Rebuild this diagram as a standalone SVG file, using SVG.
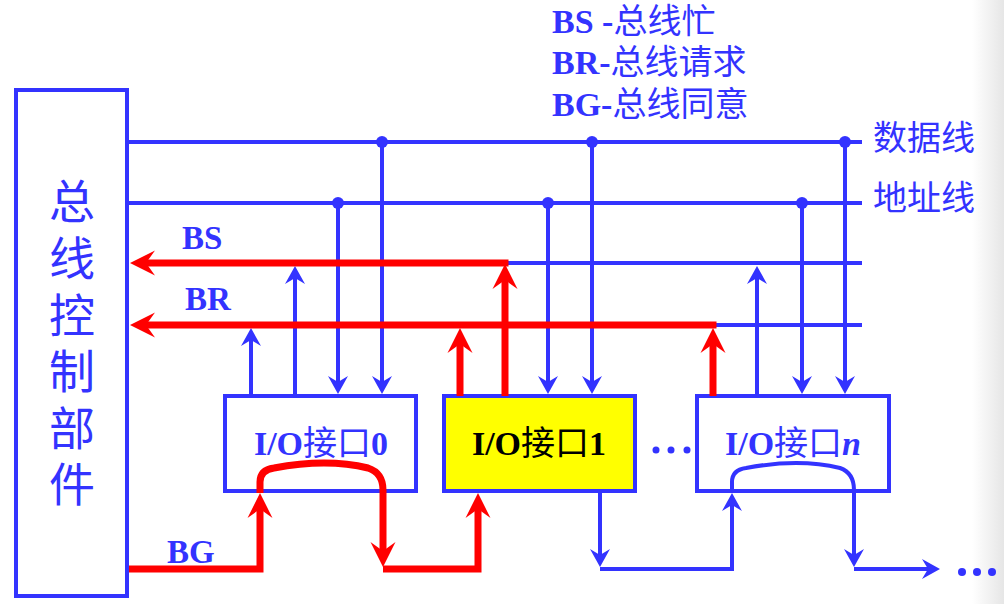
<svg xmlns="http://www.w3.org/2000/svg" width="1004" height="604" viewBox="0 0 1004 604">
<style>
.t{font-family:"Liberation Serif","Noto Sans CJK SC",serif;fill:#3333ff}
.b{font-weight:bold}
.cjk{font-family:"Noto Sans CJK SC",sans-serif}
.bl{fill:none;stroke:#3333ff;stroke-width:4;stroke-linejoin:miter}
.rd{fill:none;stroke:#ff0000;stroke-width:7;stroke-linejoin:miter}
.box{fill:#ffffff;stroke:#3333ff;stroke-width:4}
.dot{fill:#3333ff}
</style>
<defs>
<linearGradient id="edge" x1="0" y1="0" x2="1" y2="0">
<stop offset="0" stop-color="#ffffff"/>
<stop offset="1" stop-color="#e6e6e6"/>
</linearGradient>
<marker id="ar" viewBox="-10 -13 27 26" refX="0" refY="0" markerWidth="27" markerHeight="26" markerUnits="userSpaceOnUse" orient="auto">
<path d="M16,0 L-9,-12.5 L0,0 L-9,12.5 Z" fill="#ff0000"/>
</marker>
<marker id="ab" viewBox="-7 -11 20 22" refX="0" refY="0" markerWidth="20" markerHeight="22" markerUnits="userSpaceOnUse" orient="auto">
<path d="M12,0 L-6,-10 L0,0 L-6,10 Z" fill="#3333ff"/>
</marker>
</defs>
<rect x="0" y="0" width="1004" height="604" fill="#ffffff"/>
<rect x="972" y="0" width="32" height="604" fill="url(#edge)"/>

<g id="legend">
<text class="t" x="552" y="33" font-size="34"><tspan class="b">BS -</tspan><tspan class="cjk">总线忙</tspan></text>
<text class="t" x="552" y="74" font-size="34"><tspan class="b">BR-</tspan><tspan class="cjk">总线请求</tspan></text>
<text class="t" x="552" y="116" font-size="34"><tspan class="b">BG-</tspan><tspan class="cjk">总线同意</tspan></text>
</g>

<g id="bus-labels">
<text class="t cjk" x="873" y="150" font-size="34">数据线</text>
<text class="t cjk" x="873" y="210" font-size="34">地址线</text>
<text class="t b" x="182" y="249" font-size="33">BS</text>
<text class="t b" x="185" y="310" font-size="33">BR</text>
<text class="t b" x="167" y="563" font-size="33">BG</text>
</g>

<g id="bus-controller">
<rect class="box" x="16" y="90" width="111" height="506"/>
<g class="t cjk" font-size="46" text-anchor="middle">
<text x="72" y="218">总</text>
<text x="72" y="275">线</text>
<text x="72" y="332">控</text>
<text x="72" y="388">制</text>
<text x="72" y="445">部</text>
<text x="72" y="501">件</text>
</g>
</g>

<g id="io0">
<rect class="box" x="225" y="396" width="191" height="95"/>
<text class="t" x="321" y="455" font-size="34" text-anchor="middle"><tspan class="b">I/O</tspan><tspan class="cjk">接口</tspan><tspan class="b">0</tspan></text>
</g>

<g id="io1">
<rect class="box" x="444" y="396" width="191" height="95" fill="#ffff00" style="fill:#ffff00"/>
<text class="t" x="539" y="455" font-size="34" text-anchor="middle" style="fill:#000000"><tspan class="b">I/O</tspan><tspan class="cjk">接口</tspan><tspan class="b">1</tspan></text>
</g>

<g id="ion">
<rect class="box" x="697" y="396" width="192" height="95"/>
<text class="t" x="793" y="455" font-size="34" text-anchor="middle"><tspan class="b">I/O</tspan><tspan class="cjk">接口</tspan><tspan class="b" font-style="italic">n</tspan></text>
</g>

<g id="ellipses">
<circle class="dot" cx="656" cy="450" r="3.5"/>
<circle class="dot" cx="671" cy="450" r="3.5"/>
<circle class="dot" cx="687" cy="450" r="3.5"/>
<circle class="dot" cx="962" cy="572" r="4"/>
<circle class="dot" cx="977" cy="572" r="4"/>
<circle class="dot" cx="992" cy="572" r="4"/>
</g>

<g id="connectors">
<path class="bl" d="M127,142 H862"/>
<path class="bl" d="M127,203 H862"/>
<path class="bl" d="M504,263 H862"/>
<path class="bl" d="M713,325 H862"/>
<path class="bl" d="M338,203 V382" marker-end="url(#ab)"/>
<path class="bl" d="M382,142 V382" marker-end="url(#ab)"/>
<path class="bl" d="M548,203 V382" marker-end="url(#ab)"/>
<path class="bl" d="M592,142 V382" marker-end="url(#ab)"/>
<path class="bl" d="M802,203 V382" marker-end="url(#ab)"/>
<path class="bl" d="M845,142 V382" marker-end="url(#ab)"/>
<path class="bl" d="M251,396 V340" marker-end="url(#ab)"/>
<path class="bl" d="M295,396 V278" marker-end="url(#ab)"/>
<path class="bl" d="M757,396 V278" marker-end="url(#ab)"/>
<path class="bl" d="M600,491 V555" marker-end="url(#ab)"/>
<path class="bl" d="M600,569 H732 V505" marker-end="url(#ab)"/>
<path class="bl" d="M732,493 V482 Q732,470 746,468 Q799,458 840,468 Q854,473 854,490 V555" marker-end="url(#ab)"/>
<path class="bl" d="M854,569 H928" marker-end="url(#ab)"/>
<circle class="dot" cx="382" cy="142" r="6"/>
<circle class="dot" cx="592" cy="142" r="6"/>
<circle class="dot" cx="845" cy="142" r="6"/>
<circle class="dot" cx="338" cy="203" r="6"/>
<circle class="dot" cx="548" cy="203" r="6"/>
<circle class="dot" cx="802" cy="203" r="6"/>

<path class="rd" d="M508.5,263 H146" marker-end="url(#ar)"/>
<path class="rd" d="M716.5,325 H146" marker-end="url(#ar)"/>
<path class="rd" d="M505,396 V280" marker-end="url(#ar)"/>
<path class="rd" d="M460,396 V344" marker-end="url(#ar)"/>
<path class="rd" d="M713,396 V344" marker-end="url(#ar)"/>
<path class="rd" d="M129,569 H260 V509" marker-end="url(#ar)"/>
<path class="rd" d="M260,493 V482 Q260,470 274,468 Q327,458 368,468 Q383,473 383,490 V551" marker-end="url(#ar)"/>
<path class="rd" d="M383,569 H478 V509" marker-end="url(#ar)"/>
</g>
</svg>
